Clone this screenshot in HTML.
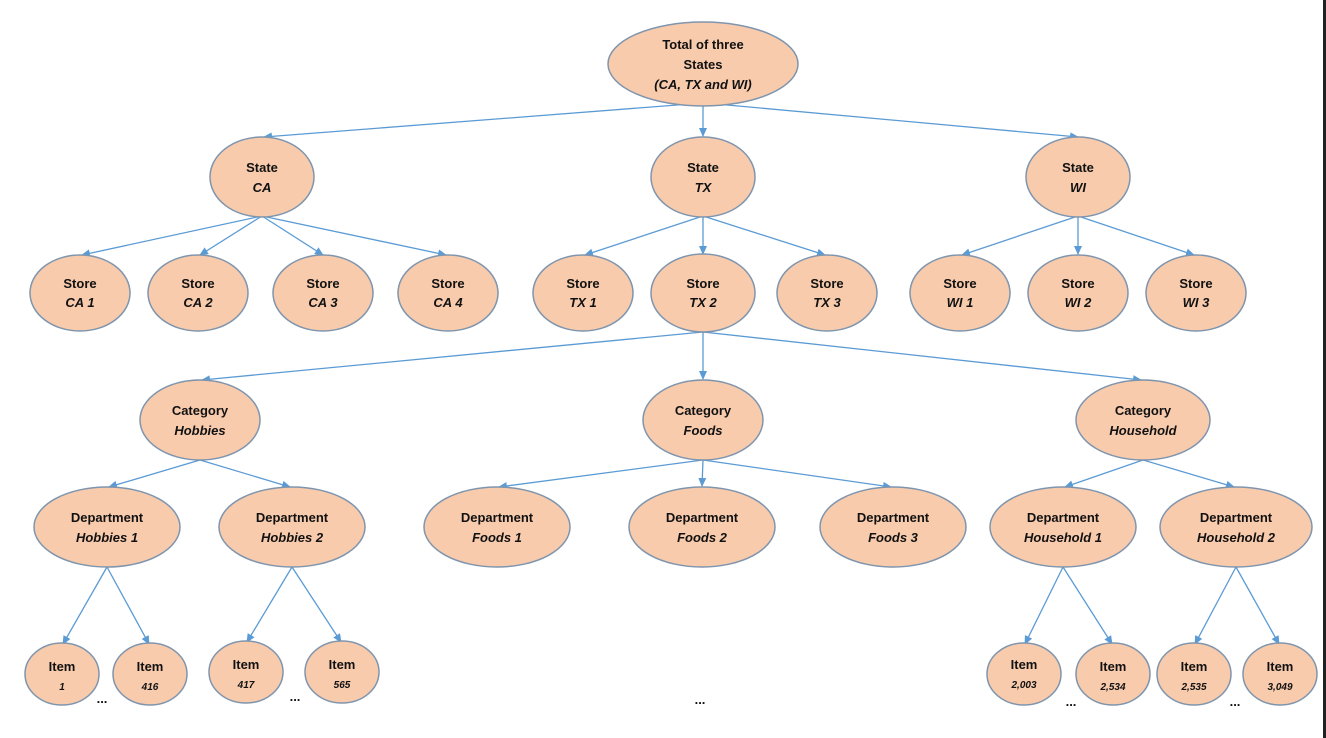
<!DOCTYPE html>
<html><head><meta charset="utf-8"><style>
html,body{margin:0;padding:0;background:#fff;}
svg{display:block;}
text{font-family:"Liberation Sans",sans-serif;font-weight:bold;font-size:13px;fill:#111;text-anchor:middle;}
.i{font-style:italic;}
.e{fill:#f8cbad;stroke:#7f95ad;stroke-width:1.5;}
.l{stroke:#5b9bd5;stroke-width:1.3;fill:none;marker-end:url(#a);}
</style></head><body>
<svg width="1326" height="738" viewBox="0 0 1326 738">
<defs><marker id="a" markerWidth="10" markerHeight="10" refX="8" refY="4" orient="auto" markerUnits="userSpaceOnUse"><path d="M0,0 L9,4 L0,8 z" fill="#5b9bd5"/></marker></defs>
<rect x="1323" y="0" width="3" height="738" fill="#222"/>
<g>
<line class="l" x1="690" y1="104" x2="264" y2="137"/>
<line class="l" x1="703" y1="106" x2="703" y2="136"/>
<line class="l" x1="716" y1="104" x2="1078" y2="137"/>
<line class="l" x1="262" y1="216" x2="82" y2="255"/>
<line class="l" x1="262" y1="216" x2="200" y2="255"/>
<line class="l" x1="262" y1="216" x2="323" y2="255"/>
<line class="l" x1="262" y1="216" x2="446" y2="255"/>
<line class="l" x1="703" y1="216" x2="585" y2="255"/>
<line class="l" x1="703" y1="216" x2="703" y2="254"/>
<line class="l" x1="703" y1="216" x2="825" y2="255"/>
<line class="l" x1="1078" y1="216" x2="962" y2="255"/>
<line class="l" x1="1078" y1="216" x2="1078" y2="254"/>
<line class="l" x1="1078" y1="216" x2="1194" y2="255"/>
<line class="l" x1="703" y1="332" x2="202" y2="380"/>
<line class="l" x1="703" y1="332" x2="703" y2="379"/>
<line class="l" x1="703" y1="332" x2="1141" y2="380"/>
<line class="l" x1="200" y1="460" x2="109" y2="487"/>
<line class="l" x1="200" y1="460" x2="290" y2="487"/>
<line class="l" x1="703" y1="460" x2="499" y2="487"/>
<line class="l" x1="703" y1="460" x2="702" y2="486"/>
<line class="l" x1="703" y1="460" x2="891" y2="487"/>
<line class="l" x1="1143" y1="460" x2="1065" y2="487"/>
<line class="l" x1="1143" y1="460" x2="1234" y2="487"/>
<line class="l" x1="107" y1="567" x2="63" y2="644"/>
<line class="l" x1="107" y1="567" x2="149" y2="644"/>
<line class="l" x1="292" y1="567" x2="247" y2="642"/>
<line class="l" x1="292" y1="567" x2="341" y2="642"/>
<line class="l" x1="1063" y1="567" x2="1025" y2="644"/>
<line class="l" x1="1063" y1="567" x2="1112" y2="644"/>
<line class="l" x1="1236" y1="567" x2="1195" y2="644"/>
<line class="l" x1="1236" y1="567" x2="1279" y2="644"/>
</g>
<ellipse class="e" cx="703" cy="64" rx="95" ry="42"/>
<text x="703" y="49">Total of three</text><text x="703" y="69">States</text><text class="i" x="703" y="89">(CA, TX and WI)</text>

<ellipse class="e" cx="262" cy="177" rx="52" ry="40"/><text x="262" y="172">State</text><text class="i" x="262" y="192">CA</text>
<ellipse class="e" cx="703" cy="177" rx="52" ry="40"/><text x="703" y="172">State</text><text class="i" x="703" y="192">TX</text>
<ellipse class="e" cx="1078" cy="177" rx="52" ry="40"/><text x="1078" y="172">State</text><text class="i" x="1078" y="192">WI</text>

<g>
<ellipse class="e" cx="80" cy="293" rx="50" ry="38"/><text x="80" y="288">Store</text><text class="i" x="80" y="307">CA 1</text>
<ellipse class="e" cx="198" cy="293" rx="50" ry="38"/><text x="198" y="288">Store</text><text class="i" x="198" y="307">CA 2</text>
<ellipse class="e" cx="323" cy="293" rx="50" ry="38"/><text x="323" y="288">Store</text><text class="i" x="323" y="307">CA 3</text>
<ellipse class="e" cx="448" cy="293" rx="50" ry="38"/><text x="448" y="288">Store</text><text class="i" x="448" y="307">CA 4</text>
<ellipse class="e" cx="583" cy="293" rx="50" ry="38"/><text x="583" y="288">Store</text><text class="i" x="583" y="307">TX 1</text>
<ellipse class="e" cx="703" cy="293" rx="52" ry="39"/><text x="703" y="288">Store</text><text class="i" x="703" y="307">TX 2</text>
<ellipse class="e" cx="827" cy="293" rx="50" ry="38"/><text x="827" y="288">Store</text><text class="i" x="827" y="307">TX 3</text>
<ellipse class="e" cx="960" cy="293" rx="50" ry="38"/><text x="960" y="288">Store</text><text class="i" x="960" y="307">WI 1</text>
<ellipse class="e" cx="1078" cy="293" rx="50" ry="38"/><text x="1078" y="288">Store</text><text class="i" x="1078" y="307">WI 2</text>
<ellipse class="e" cx="1196" cy="293" rx="50" ry="38"/><text x="1196" y="288">Store</text><text class="i" x="1196" y="307">WI 3</text>
</g>

<ellipse class="e" cx="200" cy="420" rx="60" ry="40"/><text x="200" y="415">Category</text><text class="i" x="200" y="435">Hobbies</text>
<ellipse class="e" cx="703" cy="420" rx="60" ry="40"/><text x="703" y="415">Category</text><text class="i" x="703" y="435">Foods</text>
<ellipse class="e" cx="1143" cy="420" rx="67" ry="40"/><text x="1143" y="415">Category</text><text class="i" x="1143" y="435">Household</text>

<g>
<ellipse class="e" cx="107" cy="527" rx="73" ry="40"/><text x="107" y="522">Department</text><text class="i" x="107" y="542">Hobbies 1</text>
<ellipse class="e" cx="292" cy="527" rx="73" ry="40"/><text x="292" y="522">Department</text><text class="i" x="292" y="542">Hobbies 2</text>
<ellipse class="e" cx="497" cy="527" rx="73" ry="40"/><text x="497" y="522">Department</text><text class="i" x="497" y="542">Foods 1</text>
<ellipse class="e" cx="702" cy="527" rx="73" ry="40"/><text x="702" y="522">Department</text><text class="i" x="702" y="542">Foods 2</text>
<ellipse class="e" cx="893" cy="527" rx="73" ry="40"/><text x="893" y="522">Department</text><text class="i" x="893" y="542">Foods 3</text>
<ellipse class="e" cx="1063" cy="527" rx="73" ry="40"/><text x="1063" y="522">Department</text><text class="i" x="1063" y="542">Household 1</text>
<ellipse class="e" cx="1236" cy="527" rx="76" ry="40"/><text x="1236" y="522">Department</text><text class="i" x="1236" y="542">Household 2</text>
</g>

<g>
<ellipse class="e" cx="62" cy="674" rx="37" ry="31"/><text x="62" y="671">Item</text><text class="i" x="62" y="690" style="font-size:10px">1</text>
<ellipse class="e" cx="150" cy="674" rx="37" ry="31"/><text x="150" y="671">Item</text><text class="i" x="150" y="690" style="font-size:10px">416</text>
<ellipse class="e" cx="246" cy="672" rx="37" ry="31"/><text x="246" y="669">Item</text><text class="i" x="246" y="688" style="font-size:10px">417</text>
<ellipse class="e" cx="342" cy="672" rx="37" ry="31"/><text x="342" y="669">Item</text><text class="i" x="342" y="688" style="font-size:10px">565</text>
<ellipse class="e" cx="1024" cy="674" rx="37" ry="31"/><text x="1024" y="669">Item</text><text class="i" x="1024" y="688" style="font-size:10px">2,003</text>
<ellipse class="e" cx="1113" cy="674" rx="37" ry="31"/><text x="1113" y="671">Item</text><text class="i" x="1113" y="690" style="font-size:10px">2,534</text>
<ellipse class="e" cx="1194" cy="674" rx="37" ry="31"/><text x="1194" y="671">Item</text><text class="i" x="1194" y="690" style="font-size:10px">2,535</text>
<ellipse class="e" cx="1280" cy="674" rx="37" ry="31"/><text x="1280" y="671">Item</text><text class="i" x="1280" y="690" style="font-size:10px">3,049</text>
</g>

<text x="102" y="703">...</text>
<text x="295" y="701">...</text>
<text x="700" y="704">...</text>
<text x="1071" y="706">...</text>
<text x="1235" y="706">...</text>
</svg>
</body></html>
